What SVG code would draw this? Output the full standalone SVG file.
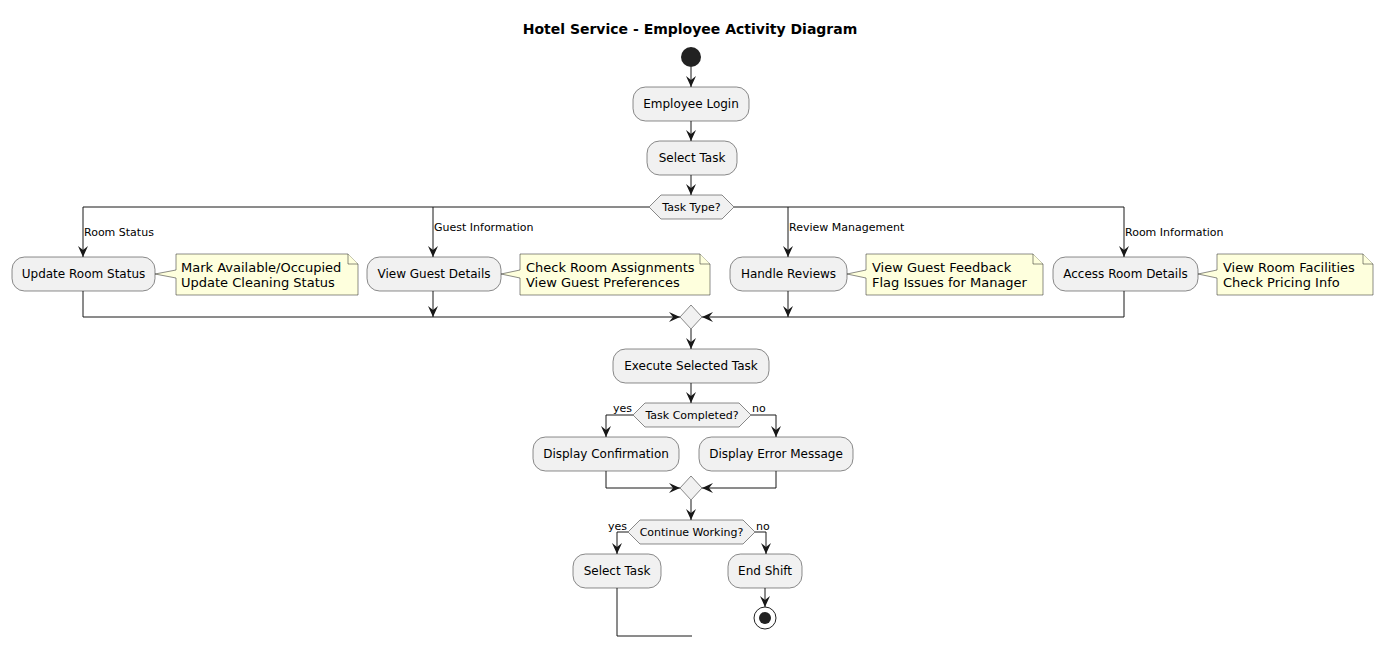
<svg xmlns="http://www.w3.org/2000/svg" width="1383" height="647" viewBox="0 0 1383 647">
<style>
text{font-family:"DejaVu Sans",sans-serif;fill:#000}
.t{font-size:14px;font-weight:bold;text-anchor:middle}
.a{font-size:12px;text-anchor:middle}
.n{font-size:13px}
.l{font-size:11px}
.h{font-size:11px;text-anchor:middle}
.box{fill:#F1F1F1;stroke:#181818;stroke-width:0.5}
.note{fill:#FEFFDD;stroke:#181818;stroke-width:0.5}
.ln{fill:none;stroke:#181818;stroke-width:1}
</style>
<defs>
<marker id="ar" viewBox="0 0 11 10" refX="11" refY="5" markerWidth="11" markerHeight="10" markerUnits="userSpaceOnUse" orient="auto">
<path d="M0,0 L11,5 L0,10 L4,5 Z" fill="#181818"/>
</marker>
</defs>
<rect width="1383" height="647" fill="#fff"/>
<text class="t" x="690" y="34">Hotel Service - Employee Activity Diagram</text>

<g id="connectors">
<line class="ln" x1="691" y1="67" x2="691" y2="87" marker-end="url(#ar)"/>
<line class="ln" x1="691" y1="121" x2="691" y2="141" marker-end="url(#ar)"/>
<line class="ln" x1="691" y1="175" x2="691" y2="195" marker-end="url(#ar)"/>
<polyline class="ln" points="649,207 83,207 83,257" marker-end="url(#ar)"/>
<polyline class="ln" points="433,207 433,257" marker-end="url(#ar)"/>
<polyline class="ln" points="734,207 1124,207 1124,257" marker-end="url(#ar)"/>
<polyline class="ln" points="788,207 788,257" marker-end="url(#ar)"/>
<text class="l" x="84" y="236">Room Status</text>
<text class="l" x="434" y="231">Guest Information</text>
<text class="l" x="789" y="231">Review Management</text>
<text class="l" x="1125" y="236">Room Information</text>
<polyline class="ln" points="83,291 83,317 680,317" marker-end="url(#ar)"/>
<polyline class="ln" points="1124,291 1124,317 702,317" marker-end="url(#ar)"/>
<line class="ln" x1="433" y1="291" x2="433" y2="317" marker-end="url(#ar)"/>
<line class="ln" x1="788" y1="291" x2="788" y2="317" marker-end="url(#ar)"/>
<line class="ln" x1="691" y1="329" x2="691" y2="349" marker-end="url(#ar)"/>
<line class="ln" x1="691" y1="383" x2="691" y2="403" marker-end="url(#ar)"/>
<polyline class="ln" points="633,415 606,415 606,437" marker-end="url(#ar)"/>
<polyline class="ln" points="751,415 776,415 776,437" marker-end="url(#ar)"/>
<text class="l" x="613" y="412">yes</text>
<text class="l" x="752" y="412">no</text>
<polyline class="ln" points="606,471 606,488 680,488" marker-end="url(#ar)"/>
<polyline class="ln" points="776,471 776,488 702,488" marker-end="url(#ar)"/>
<line class="ln" x1="691" y1="500" x2="691" y2="520" marker-end="url(#ar)"/>
<polyline class="ln" points="628,532 617,532 617,554" marker-end="url(#ar)"/>
<polyline class="ln" points="755,532 766,532 766,554" marker-end="url(#ar)"/>
<text class="l" x="608" y="530">yes</text>
<text class="l" x="756" y="530">no</text>
<polyline class="ln" points="617,588 617,636 692,636"/>
<line class="ln" x1="765" y1="588" x2="765" y2="607" marker-end="url(#ar)"/>
</g>

<g id="start"><circle cx="691" cy="57" r="10" fill="#222"/></g>

<g id="login"><rect class="box" x="633" y="87" width="116" height="34" rx="12.5"/><text class="a" x="691" y="108">Employee Login</text></g>
<g id="select1"><rect class="box" x="647" y="141" width="90" height="34" rx="12.5"/><text class="a" x="692" y="162">Select Task</text></g>
<g id="tasktype"><polygon class="box" points="649,207 661,195 722,195 734,207 722,219 661,219"/><text class="h" x="691.5" y="211">Task Type?</text></g>

<g id="updateroom"><rect class="box" x="12" y="257" width="143" height="34" rx="12.5"/><text class="a" x="83.5" y="278">Update Room Status</text></g>
<g id="note1"><path class="note" d="M176,254 L176,270 L155,274 L176,278 L176,295 L358,295 L358,264 L348,254 Z"/><path class="note" d="M348,254 L348,264 L358,264"/><text class="n" x="181" y="272">Mark Available/Occupied</text><text class="n" x="181" y="287">Update Cleaning Status</text></g>

<g id="viewguest"><rect class="box" x="367" y="257" width="134" height="34" rx="12.5"/><text class="a" x="434" y="278">View Guest Details</text></g>
<g id="note2"><path class="note" d="M520,254 L520,270 L501,274 L520,278 L520,295 L710,295 L710,264 L700,254 Z"/><path class="note" d="M700,254 L700,264 L710,264"/><text class="n" x="526" y="272">Check Room Assignments</text><text class="n" x="526" y="287">View Guest Preferences</text></g>

<g id="reviews"><rect class="box" x="730" y="257" width="117" height="34" rx="12.5"/><text class="a" x="788.5" y="278">Handle Reviews</text></g>
<g id="note3"><path class="note" d="M866,254 L866,270 L847,274 L866,278 L866,295 L1043,295 L1043,264 L1033,254 Z"/><path class="note" d="M1033,254 L1033,264 L1043,264"/><text class="n" x="872" y="272">View Guest Feedback</text><text class="n" x="872" y="287">Flag Issues for Manager</text></g>

<g id="roomdetails"><rect class="box" x="1053" y="257" width="145" height="34" rx="12.5"/><text class="a" x="1125.5" y="278">Access Room Details</text></g>
<g id="note4"><path class="note" d="M1217,254 L1217,270 L1198,274 L1217,278 L1217,295 L1373,295 L1373,264 L1363,254 Z"/><path class="note" d="M1363,254 L1363,264 L1373,264"/><text class="n" x="1223" y="272">View Room Facilities</text><text class="n" x="1223" y="287">Check Pricing Info</text></g>

<g id="merge1"><polygon class="box" points="691,305 702,317 691,329 680,317"/></g>
<g id="execute"><rect class="box" x="613" y="349" width="156" height="34" rx="12.5"/><text class="a" x="691" y="370">Execute Selected Task</text></g>
<g id="completed"><polygon class="box" points="633,415 645,403 739,403 751,415 739,427 645,427"/><text class="h" x="692" y="419">Task Completed?</text></g>
<g id="confirm"><rect class="box" x="533" y="437" width="146" height="34" rx="12.5"/><text class="a" x="606" y="458">Display Confirmation</text></g>
<g id="error"><rect class="box" x="699" y="437" width="154" height="34" rx="12.5"/><text class="a" x="776" y="458">Display Error Message</text></g>
<g id="merge2"><polygon class="box" points="691,476 702,488 691,500 680,488"/></g>
<g id="continue"><polygon class="box" points="628,532 640,520 743,520 755,532 743,544 640,544"/><text class="h" x="691.5" y="536">Continue Working?</text></g>
<g id="select2"><rect class="box" x="573" y="554" width="88" height="34" rx="12.5"/><text class="a" x="617" y="575">Select Task</text></g>
<g id="endshift"><rect class="box" x="728" y="554" width="74" height="34" rx="12.5"/><text class="a" x="765" y="575">End Shift</text></g>
<g id="end"><circle cx="765" cy="618" r="11" fill="none" stroke="#222" stroke-width="1"/><circle cx="765" cy="618" r="6" fill="#222"/></g>
</svg>
